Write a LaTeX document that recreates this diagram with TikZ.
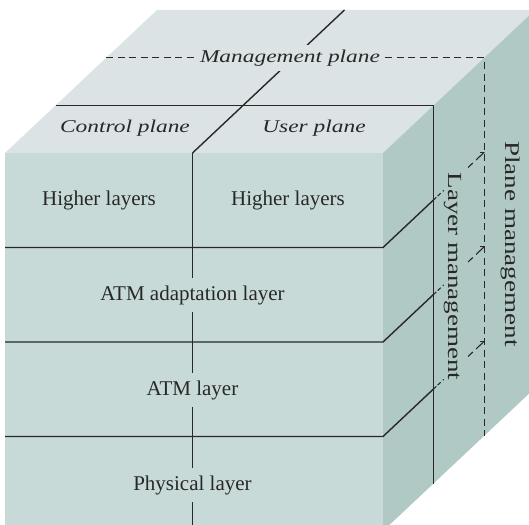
\documentclass[tikz,border=0pt]{standalone}
\usepackage{fontspec}
\setmainfont{Liberation Serif}
\usetikzlibrary{calc}
\definecolor{topc}{RGB}{220,227,228}
\definecolor{frontc}{RGB}{199,218,216}
\definecolor{sidec}{RGB}{176,201,196}
\definecolor{ink}{RGB}{40,40,40}
\begin{document}
\begin{tikzpicture}[x=1pt,y=-1pt,
  solidln/.style={draw=ink,line width=1.4pt},
  thinln/.style={draw=ink,line width=1.1pt},
  dashln/.style={draw=ink,line width=1.2pt,dash pattern=on 7pt off 4.5pt},
  frontlbl/.style={font=\fontsize{21}{25}\selectfont,text=ink,inner sep=0pt,minimum height=34pt},
  toplbl/.style={font=\fontsize{18}{22}\selectfont\itshape,text=ink,inner sep=0pt},
  sidelbl/.style={text=ink,inner sep=0pt,rotate=-90}]
\useasboundingbox (0,0) rectangle (529,524);
\clip (0,0) rectangle (529,524);
% cube corners
\coordinate (F1) at (5,153);
\coordinate (F2) at (383,153);
\coordinate (F3) at (383,531);
\coordinate (T1) at (157,10);
\coordinate (T2) at (535,10);
\coordinate (R3) at (535,388);
% faces
\fill[topc] (F1) -- (F2) -- (T2) -- (T1) -- cycle;
\fill[frontc] (F1) rectangle (F3);
\fill[sidec] (F2) -- (T2) -- (R3) -- (F3) -- cycle;
% plane at one third depth
\coordinate (P1) at (55.7,105.3);
\coordinate (P2) at (433.7,105.3);
\coordinate (P3) at (433.7,484);
\draw[solidln] (P1) -- (P2) -- (P3);
% split between control and user plane
\coordinate (S0) at (192.5,153);
\coordinate (S1) at (344.5,10);
\coordinate (S2) at (192.5,531);
\draw[solidln] (S0) -- (S1);
% top labels
\node[toplbl,fill=topc,inner xsep=5pt,minimum height=26pt] (mg) at (290,57.7) {\scalebox{1.3}[1]{Management plane}};
\node[toplbl] (cp) at (125,128) {\scalebox{1.3}[1]{Control plane}};
\node[toplbl] (up) at (314,128) {\scalebox{1.3}[1]{User plane}};
% management plane (two thirds depth)
\coordinate (Q1) at (106.3,57.7);
\coordinate (Q2) at (484.3,57.7);
\coordinate (Q3) at (484.3,435.7);
\draw[dashln] (Q1) -- (mg.west);
\draw[dashln] (mg.east) -- (Q2) -- (Q3);
% front labels
\node[frontlbl] (hl1) at (99,200) {Higher layers};
\node[frontlbl] (hl2) at (288,200) {Higher layers};
\node[frontlbl] (aal) at (192.5,295) {ATM adaptation layer};
\node[frontlbl] (atm) at (192.5,390) {ATM layer};
\node[frontlbl] (phy) at (192.5,485) {Physical layer};
\draw[solidln] (S0) -- (aal.north);
\draw[solidln] (aal.south) -- (atm.north);
\draw[solidln] (atm.south) -- (phy.north);
\draw[solidln] (phy.south) -- (S2);
% layer boundaries
\foreach \y in {247.5,342,436.5}{
  \draw[solidln] (5,\y) -- (383,\y) -- (433.7,\y-47.7);
  \draw[thinln,dash pattern=on 3.5pt off 2pt on 4pt off 3pt on 1.2pt off 40pt]
     (433.7,\y-47.7) -- ($(433.7,\y-47.7)!0.2!(484.3,\y-95.3)$);
  \draw[thinln,dash pattern=on 6.5pt off 4.5pt on 14pt]
     ($(433.7,\y-47.7)!0.68!(484.3,\y-95.3)$) -- (484.3,\y-95.3);
  \draw[thinln] (484.3,\y-95.3) -- ++(-4,0);
}
% side labels
\node[sidelbl,font=\fontsize{20}{24}\selectfont] (lm) at (453,276.5) {\scalebox{1.35}[1]{Layer management}};
\node[sidelbl,font=\fontsize{21}{25}\selectfont] (pm) at (511,244) {\scalebox{1.29}[1]{Plane management}};
\end{tikzpicture}
\end{document}
